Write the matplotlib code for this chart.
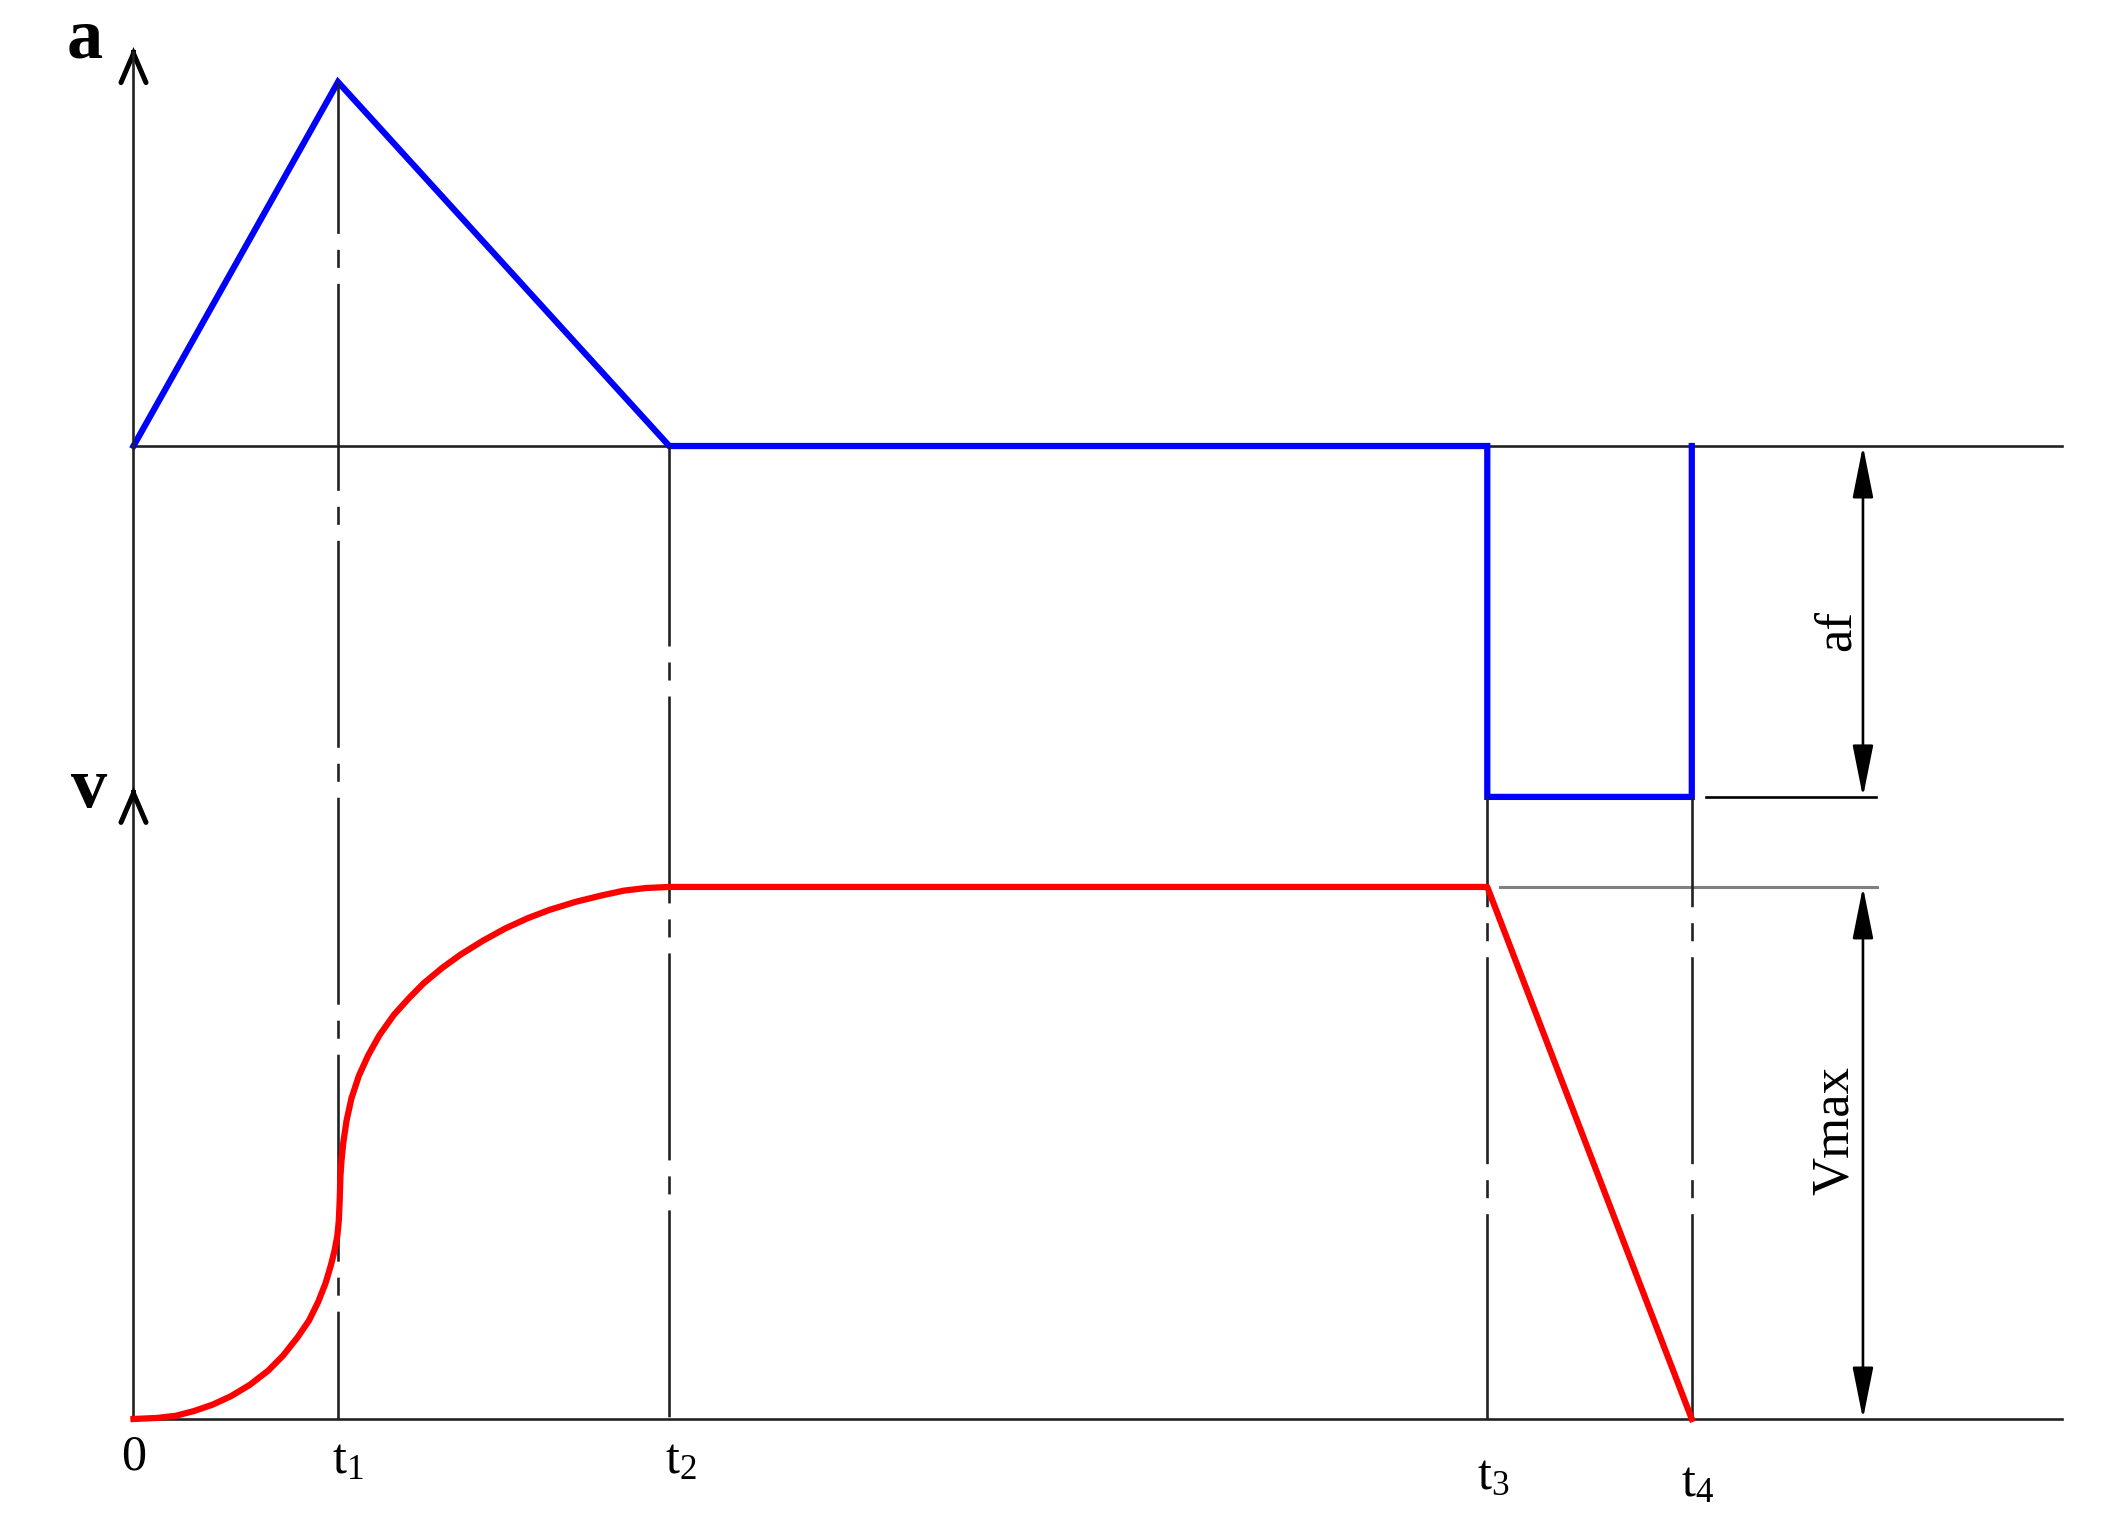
import matplotlib
matplotlib.use("Agg")
import matplotlib.pyplot as plt

plt.rcParams['font.family'] = ['Liberation Serif', 'DejaVu Serif']
plt.rcParams['mathtext.fontset'] = 'custom'
plt.rcParams['mathtext.rm'] = 'Liberation Serif'
plt.rcParams['mathtext.it'] = 'Liberation Serif:italic'
plt.rcParams['lines.scale_dashes'] = False

# ---------------- data ----------------
t_marks = [1.0, 2.62, 6.62, 7.62]            # t1, t2, t3, t4
tick_labels = ['0', r'$\mathrm{t}_{1}$', r'$\mathrm{t}_{2}$', r'$\mathrm{t}_{3}$', r'$\mathrm{t}_{4}$']
t_end = 9.43

# acceleration profile (blue)
a_time = [0.0, 1.0, 2.62, 6.62, 6.62, 7.62, 7.62]
a_vals = [0.0, 1.0, 0.0, 0.0, -0.964, -0.964, 0.0]
a_f = -0.964

# velocity profile (red)
v_time = [0.0, 0.115, 0.206, 0.296, 0.387, 0.477, 0.568, 0.659, 0.731, 0.803,
          0.858, 0.903, 0.939, 0.966, 0.984, 0.997, 1.004, 1.008, 1.012, 1.017,
          1.026, 1.042, 1.066, 1.102, 1.147, 1.202, 1.274, 1.347, 1.419, 1.510,
          1.600, 1.709, 1.818, 1.926, 2.035, 2.162, 2.289, 2.397, 2.506, 2.62,
          6.62, 7.62]
v_vals = [0.0, 0.002, 0.006, 0.015, 0.027, 0.043, 0.064, 0.091, 0.119, 0.154,
          0.185, 0.220, 0.255, 0.290, 0.318, 0.345, 0.373, 0.408, 0.457, 0.485,
          0.520, 0.561, 0.603, 0.645, 0.683, 0.721, 0.760, 0.791, 0.819, 0.848,
          0.873, 0.899, 0.922, 0.941, 0.957, 0.972, 0.984, 0.993, 0.998, 1.0,
          1.0, 0.0]
v_max = 1.0

# ---------------- layout ----------------
W, H = 2115, 1526
fig = plt.figure(figsize=(W / 100, H / 100), dpi=100)
ax_a = fig.add_axes([0, 0, 1, 1])
ax_v = fig.add_axes([0, 0, 1, 1])
for ax in (ax_a, ax_v):
    ax.set_axis_off()
    ax.patch.set_alpha(0)
    ax.set_xlim(-0.6528, 9.6895)
ax_a.set_ylim(-2.967, 1.2253)
ax_v.set_ylim(-0.2011, 2.667)


def a_to_v(a):
    disp = ax_a.transData.transform((0, a))
    return ax_v.transData.inverted().transform(disp)[1]


AX = '#222222'
LW = 1.9

# horizontal base lines
ax_a.plot([0, t_end], [0, 0], color=AX, lw=LW, zorder=2)
ax_v.plot([0, t_end], [0, 0], color=AX, lw=LW, zorder=2)

# vertical axis line
a_top = 1.096
v_top = 1.188
ax_v.plot([0, 0], [0, a_to_v(a_top) - 0.01], color=AX, lw=LW, zorder=2)

# axis arrow heads (open chevrons)
arr = dict(arrowstyle='->,head_length=1.05,head_width=0.45', lw=3.6, color='black',
           shrinkA=0, shrinkB=0, mutation_scale=20, joinstyle='miter')
ax_a.annotate('', xy=(0, a_top), xytext=(0, a_top - 0.012), arrowprops=arr, zorder=5)
ax_v.annotate('', xy=(0, v_top), xytext=(0, v_top - 0.008), arrowprops=arr, zorder=5)

# axis letters
ax_a.text(-0.237, 1.115, 'a', fontsize=52, fontweight='bold', ha='center', va='center')
ax_v.text(-0.217, 1.184, 'v', fontsize=52, fontweight='bold', ha='center', va='center')

# centre-line (dash-dot) verticals
pat = (149, 11.5, 13, 11.5)
v_tops = [a_to_v(1.0), a_to_v(0.0), a_to_v(a_f), a_to_v(a_f)]
offsets = [40, 5, 70, 70]
for t, top, off in zip(t_marks, v_tops, offsets):
    ax_v.plot([t, t], [top, 0], color=AX, lw=LW, linestyle=(off, pat), zorder=2)

# curves
ax_a.plot(a_time, a_vals, color='#0000FF', lw=4.5, zorder=4, solid_joinstyle='miter')
ax_v.plot(v_time, v_vals, color='#FF0000', lw=4.5, zorder=4, solid_joinstyle='round')

# extension lines
ax_v.plot([6.68, 8.526], [v_max, v_max], color='#808080', lw=2.2, zorder=1)
ax_a.plot([7.69, 8.52], [a_f, a_f], color='black', lw=1.9, zorder=1)

# dimension arrows
dim = dict(arrowstyle='<|-|>,head_length=1.6,head_width=0.32', lw=1.9, color='black',
           shrinkA=0, shrinkB=0, mutation_scale=20)
x_dim = 8.457
ax_a.annotate('', xy=(x_dim, 0), xytext=(x_dim, a_f), arrowprops=dim, zorder=5)
ax_v.annotate('', xy=(x_dim, v_max), xytext=(x_dim, 0), arrowprops=dim, zorder=5)
ax_a.text(8.33, a_f / 2 - 0.026, 'af', fontsize=38, rotation=90, ha='center', va='center')
ax_v.text(8.32, 0.543, 'Vmax', fontsize=38, rotation=90, ha='center', va='center')

# time tick labels
tick_pos = [0.0] + t_marks
tick_dx = [0, 10, 12, 6, 6]          # pixel offsets of labels
tick_dy = [-38, -42, -42, -58, -65]
for t, lab, dx, dy in zip(tick_pos, tick_labels, tick_dx, tick_dy):
    ax_v.annotate(lab, xy=(t, 0), xytext=(dx * 0.72, dy * 0.72), textcoords='offset points',
                  fontsize=36, ha='center', va='center')

fig.savefig('out.png', dpi=100)
